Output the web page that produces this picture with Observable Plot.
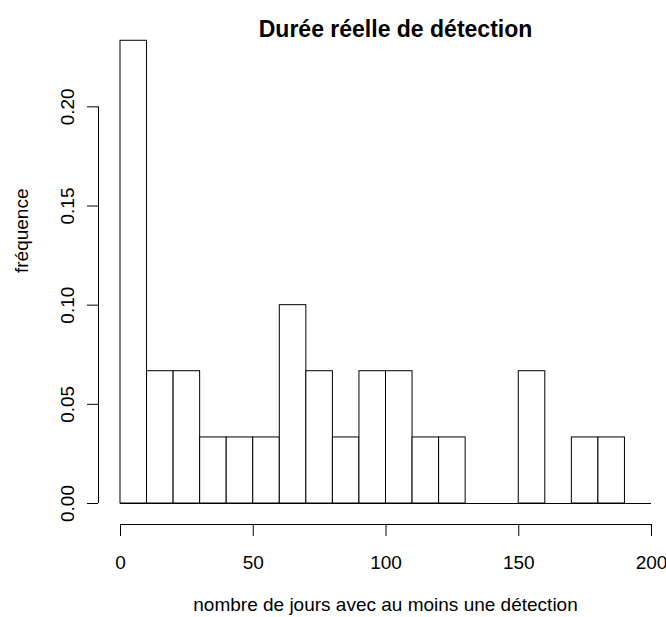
<!DOCTYPE html>
<html>
<head>
<meta charset="utf-8">
<script src="https://cdn.jsdelivr.net/npm/d3@7"></script>
<script src="https://cdn.jsdelivr.net/npm/@observablehq/plot@0.6"></script>
<style>
  html, body { margin: 0; padding: 0; background: #fff; }
</style>
</head>
<body>
<div id="chart"></div>
<script>
// ---- data ----
const binStart = [0, 10, 20, 30, 40, 50, 60, 70, 80, 90, 100, 110, 120, 130, 140, 150, 160, 170, 180, 190];
const binEnd   = [10, 20, 30, 40, 50, 60, 70, 80, 90, 100, 110, 120, 130, 140, 150, 160, 170, 180, 190, 200];
const frequence = [0.2333, 0.0667, 0.0667, 0.0333, 0.0333, 0.0333, 0.1, 0.0667, 0.0333, 0.0667,
                   0.0667, 0.0333, 0.0333, 0, 0, 0.0667, 0, 0.0333, 0.0333, 0];
const xTicks = [0, 50, 100, 150, 200];
const yTicks = [0, 0.05, 0.10, 0.15, 0.20];
const titleText = "Durée réelle de détection";
const xLabelText = "nombre de jours avec au moins une détection";
const yLabelText = "fréquence";

const bins = binStart.map((x1, i) => ({x1, x2: binEnd[i], y: frequence[i]}));
const FONT = '"Liberation Sans", Arial, Helvetica, sans-serif';

const chart = Plot.plot({
  width: 666,
  height: 617,
  marginLeft: 98,
  marginRight: 15,
  marginTop: 27,
  marginBottom: 93,
  style: {fontFamily: FONT, fontSize: "19px", background: "#fff", color: "#000", overflow: "visible"},
  x: {domain: [0, 200], insetLeft: 22, axis: null},
  y: {domain: [0, 0.24], insetBottom: 21, axis: null},
  marks: [
    Plot.rectY(bins, {x1: "x1", x2: "x2", y1: 0, y2: "y", fill: "white", stroke: "black", strokeWidth: 1, inset: 0}),
    Plot.ruleY([0], {x1: binStart[0], x2: binEnd[binEnd.length - 1], stroke: "black", strokeWidth: 1}),
    // y axis (R style, offset to the left)
    Plot.ruleX([0], {y1: yTicks[0], y2: yTicks[yTicks.length - 1], dx: -22, stroke: "black"}),
    Plot.axisY({anchor: "left", ticks: yTicks, tickSize: 11, tickPadding: 13.5, tickRotate: -90,
                tickFormat: d3.format(".2f"), fontSize: 19, label: null, stroke: "black", fill: "black"}),
    // x axis (R style, offset below)
    Plot.ruleY([0], {x1: xTicks[0], x2: xTicks[xTicks.length - 1], dy: 21, stroke: "black"}),
    Plot.axisX({anchor: "bottom", ticks: xTicks, tickSize: 12, tickPadding: 19,
                tickFormat: d3.format("d"), fontSize: 19, label: null, stroke: "black", fill: "black"}),
    // titles
    Plot.text([titleText], {frameAnchor: "top", dx: 20.5, dy: 9, lineAnchor: "bottom",
                            fontSize: 23, fontWeight: "bold", fill: "black"}),
    Plot.text([xLabelText], {frameAnchor: "bottom", dx: 10.5, dy: 86, lineAnchor: "bottom",
                             fontSize: 19, fill: "black"}),
    Plot.text([yLabelText], {frameAnchor: "left", rotate: -90, dx: -71, dy: -3, lineAnchor: "bottom",
                             fontSize: 19, fill: "black"})
  ]
});
document.getElementById("chart").appendChild(chart);
</script>
</body>
</html>
